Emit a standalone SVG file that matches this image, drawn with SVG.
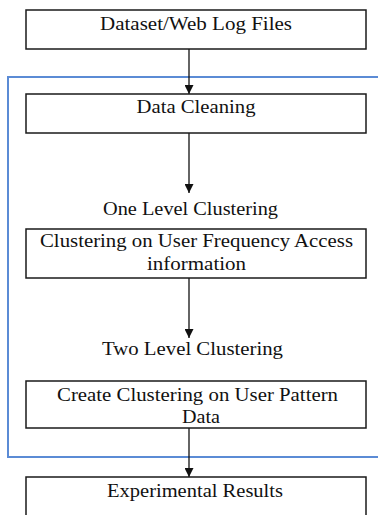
<svg xmlns="http://www.w3.org/2000/svg" width="378" height="515" viewBox="0 0 378 515">
<style>
.box{fill:#fff;stroke:#1a1a1a;stroke-width:1.5}
.c{stroke:#111;stroke-width:1.3;fill:none}
</style>
<defs>
<marker id="ah" viewBox="0 0 10 10" refX="10" refY="5" markerWidth="9" markerHeight="9" markerUnits="userSpaceOnUse" orient="auto">
<path d="M0,0 L10,5 L0,10 z" fill="#111"/>
</marker>
</defs>
<rect width="378" height="515" fill="#fff"/>
<rect id="frame" x="8" y="77" width="380" height="380" fill="none" stroke="#5b8bd5" stroke-width="2"/>
<g id="connectors">
<line class="c" x1="189" y1="49" x2="189" y2="94" marker-end="url(#ah)"/>
<line class="c" x1="189" y1="133" x2="189" y2="193" marker-end="url(#ah)"/>
<line class="c" x1="189" y1="278" x2="189" y2="338" marker-end="url(#ah)"/>
<line class="c" x1="189" y1="428" x2="189" y2="477" marker-end="url(#ah)"/>
</g>
<g font-family="Liberation Serif" font-size="19" fill="#111" text-anchor="middle">
<g id="n1"><rect class="box" x="26" y="10" width="340" height="39"/><text x="196" y="30" textLength="192" lengthAdjust="spacingAndGlyphs">Dataset/Web Log Files</text></g>
<g id="n2"><rect class="box" x="26" y="94" width="340" height="39"/><text x="196" y="113" textLength="119" lengthAdjust="spacingAndGlyphs">Data Cleaning</text></g>
<g id="l1"><text x="190.5" y="215" textLength="175" lengthAdjust="spacingAndGlyphs">One Level Clustering</text></g>
<g id="n3"><rect class="box" x="26" y="229" width="340" height="49"/><text x="196.5" y="247" textLength="313" lengthAdjust="spacingAndGlyphs">Clustering on User Frequency Access</text><text x="196.5" y="270" textLength="99" lengthAdjust="spacingAndGlyphs">information</text></g>
<g id="l2"><text x="192.5" y="355" textLength="181" lengthAdjust="spacingAndGlyphs">Two Level Clustering</text></g>
<g id="n4"><rect class="box" x="26" y="381" width="340" height="47"/><text x="197.5" y="401" textLength="281" lengthAdjust="spacingAndGlyphs">Create Clustering on User Pattern</text><text x="201" y="423" textLength="38" lengthAdjust="spacingAndGlyphs">Data</text></g>
<g id="n5"><rect class="box" x="26" y="477" width="340" height="50"/><text x="195" y="497" textLength="176" lengthAdjust="spacingAndGlyphs">Experimental Results</text></g>
</g>
</svg>
